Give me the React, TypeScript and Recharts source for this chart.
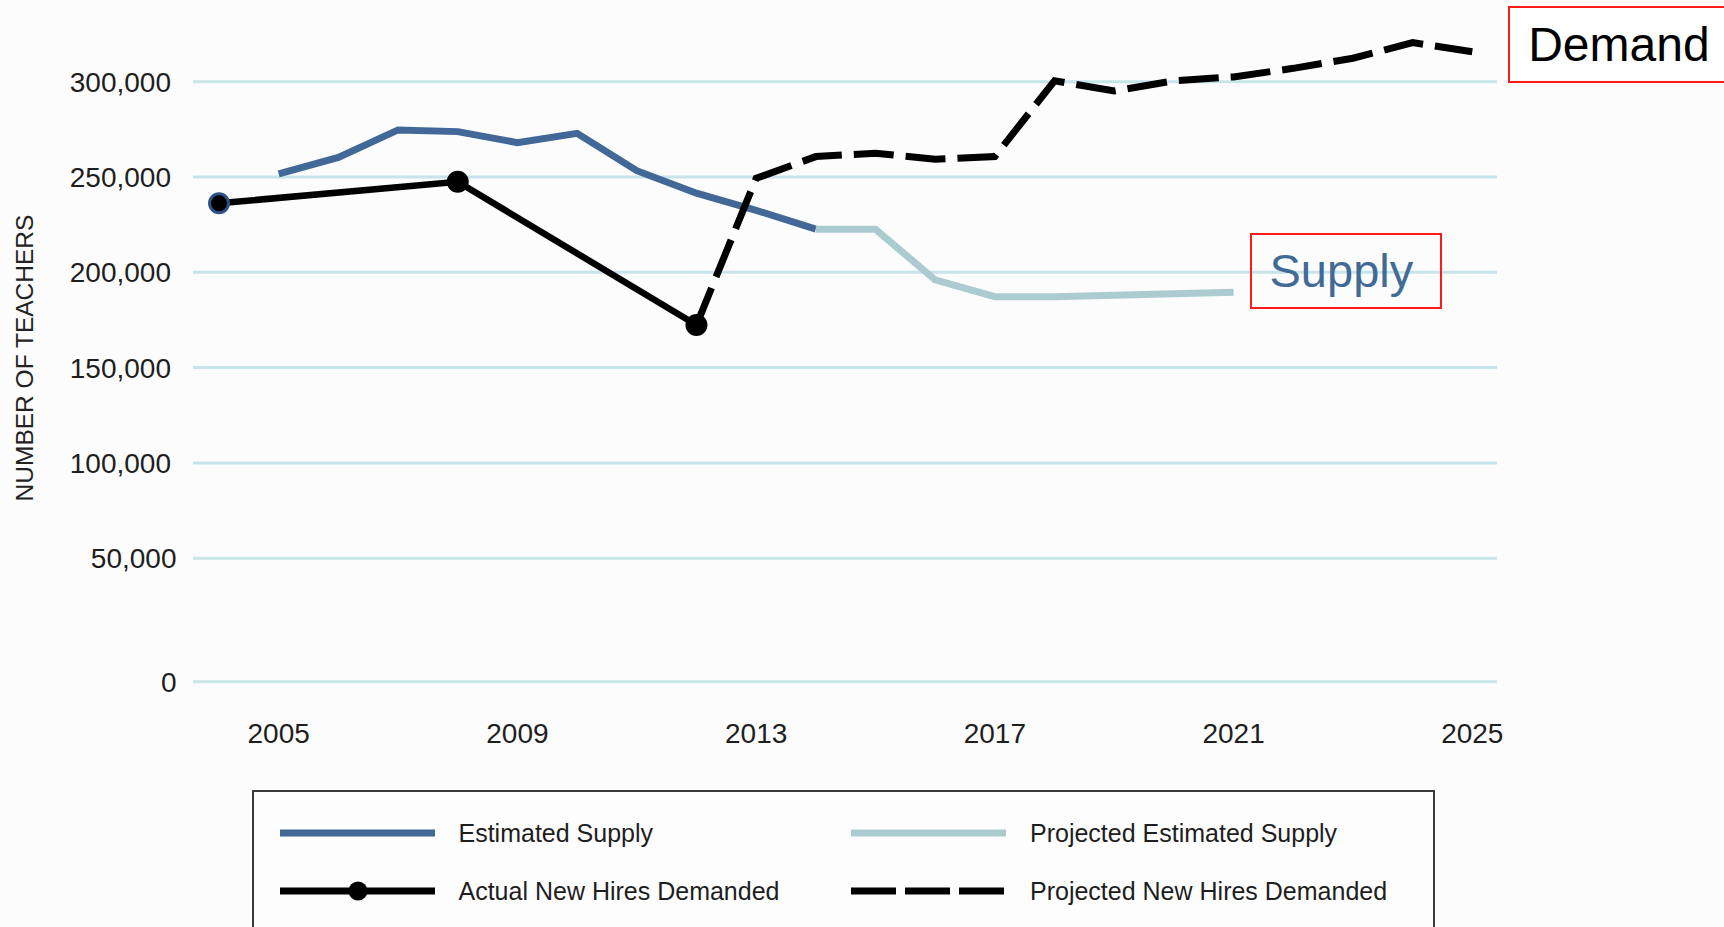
import React from 'react';
import { LineChart, Line, XAxis, YAxis, CartesianGrid, Legend } from 'recharts';

// ---------- data ----------
const years = [
  2004, 2005, 2006, 2007, 2008, 2009, 2010, 2011, 2012, 2013, 2014,
  2015, 2016, 2017, 2018, 2019, 2020, 2021, 2022, 2023, 2024, 2025,
];

const estimatedSupply = [
  null, 251600, 260300, 274700, 273800, 268000, 272900, 253300, 241500, 232500, 222600,
  null, null, null, null, null, null, null, null, null, null, null,
];

const projectedSupply = [
  null, null, null, null, null, null, null, null, null, null, 222600,
  222600, 196000, 187200, 187200, 187900, 188800, 189500, null, null, null, null,
];

const actualHires = [
  236200, null, null, null, 247500, null, null, null, 172300, null, null,
  null, null, null, null, null, null, null, null, null, null, null,
];

const projectedHires = [
  null, null, null, null, null, null, null, null, 172300, 249300, 260700,
  262500, 259300, 260700, 300500, 295100, 300500, 302500, 307000, 312300, 320500, 315700,
];

const xTicks = [2005, 2009, 2013, 2017, 2021, 2025];
const yTicks = [0, 50000, 100000, 150000, 200000, 250000, 300000];

const seriesNames = {
  estimatedSupply: 'Estimated Supply',
  projectedSupply: 'Projected Estimated Supply',
  actualHires: 'Actual New Hires Demanded',
  projectedHires: 'Projected New Hires Demanded',
};

const data = years.map((year, i) => ({
  year,
  estimatedSupply: estimatedSupply[i],
  projectedSupply: projectedSupply[i],
  actualHires: actualHires[i],
  projectedHires: projectedHires[i],
}));

// ---------- styles ----------
const FONT = '"Liberation Sans", Arial, Helvetica, sans-serif';
const DARK_BLUE = '#416896';
const LIGHT_BLUE = '#abcbd1';
const GRID = '#c6e4ea';
const DASH = '40 12';

// ---------- y scale: the 0–50k band is drawn taller than the others ----------
const LOW_BAND_TOP = 50000;
const LOW_BAND_STRETCH = 1.296;
const stretch = (v: number) =>
  v <= LOW_BAND_TOP ? v * LOW_BAND_STRETCH : LOW_BAND_TOP * LOW_BAND_STRETCH + (v - LOW_BAND_TOP);
const unstretch = (t: number) =>
  t <= LOW_BAND_TOP * LOW_BAND_STRETCH ? t / LOW_BAND_STRETCH : t - LOW_BAND_TOP * LOW_BAND_STRETCH + LOW_BAND_TOP;

function createBandScale(dom: number[] = [0, 1], rng: number[] = [0, 1]): any {
  let d = dom.slice();
  let r = rng.slice();
  const scale: any = (v: any) => {
    const n = Number(v);
    const t0 = stretch(d[0]);
    const t1 = stretch(d[1]);
    return r[0] + ((stretch(n) - t0) / (t1 - t0)) * (r[1] - r[0]);
  };
  scale.domain = (nd?: any[]) => {
    if (nd === undefined) return d.slice();
    d = [Number(nd[0]), Number(nd[nd.length - 1])];
    return scale;
  };
  scale.range = (nr?: any[]) => {
    if (nr === undefined) return r.slice();
    r = [Number(nr[0]), Number(nr[nr.length - 1])];
    return scale;
  };
  scale.copy = () => createBandScale(d, r);
  scale.ticks = () => yTicks.filter((t) => t >= Math.min(d[0], d[1]) && t <= Math.max(d[0], d[1]));
  scale.invert = (px: number) => {
    const t0 = stretch(d[0]);
    const t1 = stretch(d[1]);
    return unstretch(t0 + ((px - r[0]) / (r[1] - r[0])) * (t1 - t0));
  };
  scale.clamp = () => scale;
  scale.nice = () => scale;
  scale.tickFormat = () => (v: number) => String(v);
  return scale;
}

const yScale = createBandScale();

const fmt = (v: number) => v.toLocaleString('en-US');

const YTick = (props: any) => {
  const { x, y, payload } = props;
  const shift = payload.value <= LOW_BAND_TOP ? 5.5 : 0;
  return (
    <text
      x={x + shift}
      y={y}
      dy="0.355em"
      textAnchor="end"
      fill="#1e1e1e"
      fontSize={28}
      fontFamily={FONT}
    >
      {fmt(payload.value)}
    </text>
  );
};

const ActualDot = (props: any) => {
  const { cx, cy, index, payload, value } = props;
  if (value == null || cx == null || cy == null) return <g key={`d-${index}`} />;
  const first = payload.year === years[actualHires.findIndex((v) => v != null)];
  return (
    <circle
      key={`d-${index}`}
      cx={cx}
      cy={cy}
      r={9.5}
      fill="#000"
      stroke={first ? '#2d5187' : '#000'}
      strokeWidth={3}
    />
  );
};

const legendOrder = ['estimatedSupply', 'projectedSupply', 'actualHires', 'projectedHires'];

const LegendIcon = ({ entry }: any) => {
  const key = entry.dataKey;
  const color = entry.color;
  const dashed = key === 'projectedHires';
  const dotted = key === 'actualHires';
  return (
    <svg width={155} height={24} style={{ display: 'block' }}>
      <line
        x1={0}
        y1={12}
        x2={155}
        y2={12}
        stroke={color}
        strokeWidth={7}
        strokeDasharray={dashed ? '45 9' : undefined}
      />
      {dotted && <circle cx={78} cy={12} r={9.5} fill={color} />}
    </svg>
  );
};

const LegendContent = (props: any) => {
  const payload = (props.payload || []).slice().sort(
    (a: any, b: any) => legendOrder.indexOf(a.dataKey) - legendOrder.indexOf(b.dataKey),
  );
  return (
    <div
      style={{
        position: 'relative',
        width: 1183,
        height: 170,
        border: '2px solid #3a3a3a',
        boxSizing: 'border-box',
        background: '#fdfdfd',
      }}
    >
      {payload.map((entry: any, i: number) => {
        const col = i % 2;
        const row = Math.floor(i / 2);
        return (
          <div
            key={entry.dataKey}
            style={{
              position: 'absolute',
              left: 26 + col * 571.5,
              top: 41 + row * 58 - 12,
              height: 24,
              display: 'flex',
              alignItems: 'center',
            }}
          >
            <LegendIcon entry={entry} />
            <span
              style={{
                marginLeft: 24,
                fontFamily: FONT,
                fontSize: 25,
                color: '#1e1e1e',
                whiteSpace: 'nowrap',
                lineHeight: '24px',
              }}
            >
              {entry.value}
            </span>
          </div>
        );
      })}
    </div>
  );
};

export default function App() {
  return (
    <div
      style={{
        position: 'absolute',
        left: 0,
        top: 0,
        width: 1724,
        height: 927,
        overflow: 'hidden',
        background: '#fcfcfc',
      }}
    >
      <LineChart
        width={1724}
        height={927}
        data={data}
        margin={{ top: 24.5, right: 227, bottom: 0, left: 0 }}
      >
        <CartesianGrid horizontal vertical={false} syncWithTicks stroke={GRID} strokeWidth={3} />
        <XAxis
          dataKey="year"
          type="number"
          domain={[2003.564, 2025.414]}
          ticks={xTicks}
          height={245.3}
          axisLine={false}
          tickLine={false}
          tickSize={0}
          tickMargin={41.5}
          interval={0}
          tick={{ fill: '#1e1e1e', fontSize: 28, fontFamily: FONT }}
        />
        <YAxis
          type="number"
          scale={yScale}
          domain={[0, 330000]}
          ticks={yTicks}
          width={193}
          axisLine={false}
          tickLine={false}
          tickSize={0}
          tickMargin={22}
          interval={0}
          tick={<YTick />}
        />
        <Legend
          layout="horizontal"
          verticalAlign="middle"
          align="center"
          content={<LegendContent />}
          wrapperStyle={{ left: 251.5, top: 790, width: 1183, height: 170 }}
        />
        <Line
          dataKey="estimatedSupply"
          name={seriesNames.estimatedSupply}
          stroke={DARK_BLUE}
          strokeWidth={7}
          dot={false}
          activeDot={false}
          strokeLinejoin="miter"
          isAnimationActive={false}
          type="linear"
        />
        <Line
          dataKey="projectedSupply"
          name={seriesNames.projectedSupply}
          stroke={LIGHT_BLUE}
          strokeWidth={7}
          dot={false}
          activeDot={false}
          isAnimationActive={false}
          type="linear"
        />
        <Line
          dataKey="actualHires"
          name={seriesNames.actualHires}
          stroke="#000"
          strokeWidth={6.5}
          connectNulls
          dot={<ActualDot />}
          activeDot={false}
          isAnimationActive={false}
          type="linear"
        />
        <Line
          dataKey="projectedHires"
          name={seriesNames.projectedHires}
          stroke="#000"
          strokeWidth={7}
          strokeDasharray={DASH}
          dot={false}
          activeDot={false}
          isAnimationActive={false}
          type="linear"
        />
      </LineChart>

      {/* axis title */}
      <div
        style={{
          position: 'absolute',
          left: 25,
          top: 358,
          transform: 'translate(-50%, -50%) rotate(-90deg)',
          fontFamily: FONT,
          fontSize: 24.5,
          color: '#222',
          whiteSpace: 'nowrap',
          lineHeight: 1,
        }}
      >
        NUMBER OF TEACHERS
      </div>

      {/* annotations */}
      <div
        style={{
          position: 'absolute',
          left: 1507.7,
          top: 5.7,
          width: 240,
          height: 77.6,
          border: '2px solid #ff1a1a',
          boxSizing: 'border-box',
          background: '#ffffff',
        }}
      >
        <span
          style={{
            position: 'absolute',
            left: 18.5,
            top: 13.4,
            fontFamily: FONT,
            fontSize: 48,
            lineHeight: '48px',
            color: '#000',
            whiteSpace: 'nowrap',
          }}
        >
          Demand
        </span>
      </div>
      <div
        style={{
          position: 'absolute',
          left: 1250,
          top: 232.7,
          width: 191.7,
          height: 76.6,
          border: '2px solid #ff1a1a',
          boxSizing: 'border-box',
        }}
      >
        <span
          style={{
            position: 'absolute',
            left: 17.5,
            top: 12.2,
            fontFamily: FONT,
            fontSize: 47,
            lineHeight: '47px',
            color: '#416a95',
            whiteSpace: 'nowrap',
          }}
        >
          Supply
        </span>
      </div>
    </div>
  );
}
